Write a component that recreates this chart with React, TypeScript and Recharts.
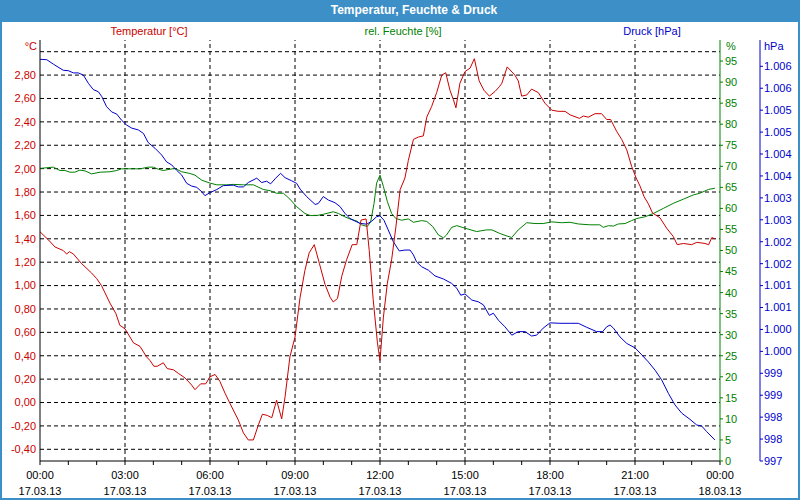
import { LineChart, Line, XAxis, YAxis, ReferenceLine } from 'recharts';

const FONT = '"Liberation Sans", Arial, sans-serif';
const RED = '#cc0000';
const GREEN = '#008000';
const BLUE = '#0000cc';

// temperature [°C]
const tempHours = [
  0, 0.3, 0.53, 0.82, 0.94, 1.04, 1.18, 1.46, 1.81, 2.0,
  2.17, 2.47, 2.68, 2.82, 3.0, 3.3, 3.53, 3.76, 3.88, 4.02,
  4.14, 4.35, 4.49, 4.71, 4.88, 5.12, 5.35, 5.47, 5.67, 5.85,
  6.0, 6.18, 6.35, 6.53, 6.71, 7.0, 7.18, 7.35, 7.53, 7.71,
  7.85, 8.02, 8.18, 8.35, 8.53, 8.65, 8.82, 9.0, 9.18, 9.35,
  9.5, 9.68, 9.86, 10.06, 10.24, 10.35, 10.5, 10.65, 10.82, 11.02,
  11.18, 11.33, 11.51, 11.62, 11.76, 11.91, 12.0, 12.12, 12.26, 12.41,
  12.56, 12.71, 12.88, 13.0, 13.18, 13.35, 13.53, 13.65, 13.82, 14.0,
  14.18, 14.32, 14.47, 14.59, 14.68, 14.82, 15.0, 15.18, 15.33, 15.5,
  15.67, 15.86, 16.06, 16.21, 16.3, 16.49, 16.76, 16.88, 17.0, 17.18,
  17.35, 17.59, 17.82, 18.06, 18.29, 18.53, 18.71, 19.04, 19.18, 19.35,
  19.59, 19.82, 20.0, 20.14, 20.35, 20.53, 20.71, 20.88, 21.04, 21.18,
  21.32, 21.47, 21.62, 21.88, 22.12, 22.35, 22.49, 22.71, 23.0, 23.18,
  23.47, 23.6, 23.71, 23.82,
];
const tempValues = [
  1.46, 1.39, 1.33, 1.3, 1.27, 1.29, 1.27, 1.19, 1.11, 1.06,
  1.0, 0.85, 0.76, 0.66, 0.63, 0.51, 0.48, 0.39, 0.36, 0.31,
  0.31, 0.34, 0.29, 0.28, 0.25, 0.21, 0.15, 0.11, 0.16, 0.16,
  0.22, 0.24, 0.18, 0.08, -0.01, -0.15, -0.26, -0.32, -0.32, -0.19,
  -0.1, -0.11, -0.13, 0.02, -0.14, 0.05, 0.39, 0.56, 0.9, 1.13,
  1.28, 1.35, 1.19, 1.01, 0.9, 0.86, 0.89, 1.08, 1.22, 1.35,
  1.35, 1.56, 1.57, 1.3, 0.88, 0.51, 0.36, 0.73, 1.02, 1.22,
  1.5, 1.82, 1.92, 2.07, 2.25, 2.27, 2.28, 2.44, 2.53, 2.65,
  2.8, 2.82, 2.67, 2.59, 2.52, 2.73, 2.83, 2.86, 2.94, 2.75,
  2.67, 2.62, 2.66, 2.7, 2.73, 2.87, 2.8, 2.75, 2.62, 2.63,
  2.68, 2.65, 2.56, 2.5, 2.49, 2.49, 2.46, 2.43, 2.45, 2.44,
  2.47, 2.47, 2.42, 2.42, 2.32, 2.25, 2.16, 2.02, 1.92, 1.85,
  1.76, 1.7, 1.62, 1.58, 1.49, 1.42, 1.35, 1.36, 1.35, 1.37,
  1.36, 1.35, 1.41, 1.4,
];

// rel. humidity [%]
const humHours = [
  0, 0.47, 0.71, 0.88, 1.06, 1.23, 1.41, 1.59, 1.82, 2.12,
  2.47, 2.71, 2.88, 3.18, 3.53, 3.82, 4.0, 4.18, 4.35, 4.59,
  4.76, 5.0, 5.29, 5.47, 5.71, 6.0, 6.24, 6.59, 6.82, 7.18,
  7.53, 7.88, 8.12, 8.35, 8.59, 8.82, 9.06, 9.35, 9.53, 9.76,
  10.0, 10.35, 10.53, 10.76, 10.94, 11.18, 11.35, 11.55, 11.67, 11.79,
  11.88, 12.0, 12.12, 12.26, 12.41, 12.56, 12.76, 13.0, 13.18, 13.47,
  13.65, 13.86, 14.06, 14.24, 14.35, 14.53, 14.71, 15.0, 15.41, 15.76,
  15.95, 16.21, 16.45, 16.65, 16.88, 17.18, 17.47, 17.76, 18.06, 18.41,
  18.71, 19.0, 19.41, 19.76, 19.88, 20.06, 20.24, 20.41, 20.65, 20.88,
  21.06, 21.35, 21.65, 22.0, 22.35, 22.71, 23.06, 23.29, 23.59, 23.82,
];
const humValues = [
  69.5, 69.8, 69.0, 69.0, 68.6, 68.6, 69.1, 68.9, 68.2, 68.6,
  68.7, 69.0, 69.4, 69.4, 69.4, 69.8, 69.8, 69.3, 69.0, 69.3,
  69.5, 68.7, 68.3, 67.9, 66.7, 66.0, 65.6, 65.6, 65.7, 65.6,
  65.6, 64.5, 64.2, 63.6, 63.6, 62.2, 60.4, 58.8, 58.3, 58.3,
  58.6, 59.2, 58.8, 58.0, 57.5, 57.0, 56.1, 55.7, 56.8, 61.2,
  66.0, 67.9, 65.2, 61.6, 58.8, 57.6, 57.2, 57.5, 56.7, 57.1,
  56.9, 55.7, 53.7, 53.0, 53.7, 55.5, 55.9, 55.3, 54.5, 54.9,
  54.9, 54.1, 53.5, 53.1, 54.9, 56.6, 56.4, 56.4, 56.8, 56.6,
  56.7, 56.3, 56.1, 56.1, 55.5, 55.9, 55.8, 56.3, 56.4, 57.1,
  57.6, 58.0, 58.8, 60.0, 61.2, 62.2, 63.2, 63.6, 64.5, 64.8,
];

// pressure [hPa]
const presHours = [
  0, 0.24, 0.47, 0.82, 1.0, 1.18, 1.35, 1.53, 1.71, 1.88,
  2.06, 2.18, 2.35, 2.53, 2.71, 2.88, 3.06, 3.24, 3.47, 3.65,
  3.82, 4.06, 4.29, 4.47, 4.65, 4.82, 5.0, 5.18, 5.35, 5.53,
  5.71, 5.82, 6.0, 6.24, 6.47, 6.82, 7.0, 7.18, 7.35, 7.65,
  7.82, 8.0, 8.14, 8.32, 8.49, 8.65, 8.88, 9.06, 9.18, 9.41,
  9.71, 9.82, 10.0, 10.18, 10.41, 10.59, 10.76, 10.94, 11.12, 11.29,
  11.53, 11.71, 11.88, 12.0, 12.14, 12.29, 12.47, 12.68, 12.88, 13.06,
  13.18, 13.29, 13.47, 13.71, 13.94, 14.24, 14.53, 14.71, 14.85, 15.0,
  15.24, 15.47, 15.65, 15.86, 16.0, 16.18, 16.41, 16.65, 16.88, 17.12,
  17.35, 17.53, 17.76, 18.0, 18.35, 18.71, 19.0, 19.29, 19.65, 19.86,
  20.0, 20.12, 20.24, 20.47, 20.71, 21.0, 21.24, 21.47, 21.71, 21.94,
  22.18, 22.41, 22.65, 22.94, 23.18, 23.35, 23.53, 23.82,
];
const presValues = [
  1006.16, 1006.15, 1006.05, 1005.91, 1005.9, 1005.85, 1005.85, 1005.8, 1005.61, 1005.47,
  1005.42, 1005.31, 1005.08, 1004.96, 1004.91, 1004.77, 1004.66, 1004.59, 1004.55, 1004.47,
  1004.26, 1004.13, 1003.98, 1003.82, 1003.75, 1003.63, 1003.52, 1003.33, 1003.27, 1003.24,
  1003.14, 1003.05, 1003.12, 1003.19, 1003.28, 1003.29, 1003.25, 1003.25, 1003.35, 1003.45,
  1003.35, 1003.38, 1003.32, 1003.45, 1003.56, 1003.46, 1003.39, 1003.33, 1003.2, 1003.03,
  1002.85, 1002.87, 1003.03, 1002.95, 1002.89, 1002.8, 1002.65, 1002.53, 1002.47, 1002.42,
  1002.4, 1002.47, 1002.57, 1002.59, 1002.49, 1002.27, 1002.0, 1001.79, 1001.81, 1001.81,
  1001.7, 1001.54, 1001.43, 1001.35, 1001.22, 1001.15, 1001.05, 1000.94, 1000.78, 1000.81,
  1000.67, 1000.63, 1000.56, 1000.32, 1000.37, 1000.21, 1000.06, 999.87, 999.95, 999.95,
  999.85, 999.87, 1000.03, 1000.15, 1000.14, 1000.14, 1000.14, 1000.05, 999.95, 999.95,
  1000.06, 1000.1, 1000.03, 999.83, 999.68, 999.58, 999.42, 999.26, 999.07, 998.85,
  998.54, 998.28, 998.09, 997.95, 997.82, 997.8, 997.67, 997.48,
];

// axes
const tickHours = [0, 3, 6, 9, 12, 15, 18, 21, 24];
const tickTimes = ['00:00', '03:00', '06:00', '09:00', '12:00', '15:00', '18:00', '21:00', '00:00'];
const tickDates = ['17.03.13', '17.03.13', '17.03.13', '17.03.13', '17.03.13', '17.03.13', '17.03.13', '17.03.13', '18.03.13'];
const minorHours = Array.from({ length: 25 }, (_, i) => i);
const tempTicks = [-0.4, -0.2, 0, 0.2, 0.4, 0.6, 0.8, 1.0, 1.2, 1.4, 1.6, 1.8, 2.0, 2.2, 2.4, 2.6, 2.8];
const tempGrid = [...tempTicks, 3.0];
const humTicks = [0, 5, 10, 15, 20, 25, 30, 35, 40, 45, 50, 55, 60, 65, 70, 75, 80, 85, 90, 95];
const presTicks = [
  997, 997.5, 998, 998.5, 999, 999.5, 1000, 1000.5, 1001, 1001.5,
  1002, 1002.5, 1003, 1003.5, 1004, 1004.5, 1005, 1005.5, 1006,
];

const toPoints = (hours: number[], values: number[]) => hours.map((h, i) => ({ h, v: values[i] }));
const tempData = toPoints(tempHours, tempValues);
const humData = toPoints(humHours, humValues);
const presData = toPoints(presHours, presValues);

const fmtTemp = (v: number) => v.toFixed(2).replace('.', ',');
const fmtPres = (v: number) => {
  const r = Math.round(v);
  return r >= 1000 ? `${Math.floor(r / 1000)}.${String(r % 1000).padStart(3, '0')}` : String(r);
};

const TimeTick = ({ x, y, payload }: any) => {
  const i = tickHours.indexOf(payload.value);
  if (i < 0) return <g />;
  return (
    <g>
      <text x={x} y={y + 12} textAnchor='middle' fill='#000' fontSize={11} fontFamily={FONT}>
        {tickTimes[i]}
      </text>
      <text x={x} y={y + 28} textAnchor='middle' fill='#000' fontSize={11} fontFamily={FONT}>
        {tickDates[i]}
      </text>
    </g>
  );
};

const label = (text: string, color: string, left: number, top: number, width: number, align: 'left' | 'center' | 'right') => (
  <div
    style={{
      position: 'absolute',
      left,
      top,
      width,
      textAlign: align,
      color,
      fontSize: 11,
      lineHeight: '14px',
      whiteSpace: 'nowrap',
    }}
  >
    {text}
  </div>
);

export default function App() {
  return (
    <div
      style={{
        position: 'absolute',
        left: 0,
        top: 0,
        width: 800,
        height: 500,
        background: '#3d8fc7',
        fontFamily: FONT,
      }}
    >
      <div style={{ position: 'absolute', left: 2, top: 22, width: 796, height: 476, background: '#fff' }} />
      <div
        style={{
          position: 'absolute',
          left: 0,
          top: 3,
          width: 828,
          textAlign: 'center',
          color: '#fff',
          fontWeight: 'bold',
          fontSize: 12,
          lineHeight: '15px',
        }}
      >
        Temperatur, Feuchte &amp; Druck
      </div>
      {label('Temperatur [°C]', RED, 49, 24, 200, 'center')}
      {label('rel. Feuchte [%]', GREEN, 303, 24, 200, 'center')}
      {label('Druck [hPa]', BLUE, 552, 24, 200, 'center')}
      {label('°C', RED, 0, 39, 37, 'right')}
      {label('%', GREEN, 726, 39, 20, 'left')}
      {label('hPa', BLUE, 764, 39, 30, 'left')}

      <div style={{ position: 'absolute', left: 0, top: 0 }}>
        <LineChart width={800} height={500} margin={{ top: 40, right: 0, bottom: 2, left: 0 }}>
          <XAxis
            dataKey='h'
            type='number'
            domain={[0, 24]}
            ticks={minorHours}
            interval={0}
            height={37}
            tickSize={4}
            tickMargin={2}
            stroke='#000'
            axisLine={{ stroke: '#000' }}
            tickLine={{ stroke: '#000' }}
            tick={<TimeTick />}
            allowDataOverflow
          />
          <XAxis
            xAxisId='top'
            orientation='top'
            type='number'
            domain={[0, 24]}
            height={0}
            tick={false}
            tickLine={false}
            axisLine={{ stroke: '#000' }}
          />
          <YAxis
            yAxisId='t'
            orientation='left'
            type='number'
            domain={[-0.5, 3.1]}
            ticks={tempTicks}
            interval={0}
            width={40}
            tickLine={false}
            tickSize={0}
            tickMargin={4}
            axisLine={{ stroke: '#000' }}
            tickFormatter={fmtTemp}
            tick={{ fill: RED, fontSize: 11, fontFamily: FONT }}
            allowDataOverflow
          />
          <YAxis
            yAxisId='h'
            orientation='right'
            type='number'
            domain={[0, 100]}
            ticks={humTicks}
            interval={0}
            width={40}
            tickSize={3}
            tickMargin={2}
            axisLine={{ stroke: GREEN }}
            tickLine={{ stroke: GREEN }}
            tick={{ fill: GREEN, fontSize: 11, fontFamily: FONT }}
            allowDataOverflow
          />
          <YAxis
            yAxisId='p'
            orientation='right'
            type='number'
            domain={[997, 1006.6]}
            ticks={presTicks}
            interval={0}
            width={40}
            tickSize={3}
            tickMargin={1}
            axisLine={{ stroke: BLUE }}
            tickLine={{ stroke: BLUE }}
            tickFormatter={fmtPres}
            tick={{ fill: BLUE, fontSize: 11, fontFamily: FONT }}
            allowDataOverflow
          />
          {tempGrid.map((t) => (
            <ReferenceLine key={`g${t}`} yAxisId='t' y={t} stroke='#000' strokeDasharray='4 3' />
          ))}
          {tickHours.slice(1, -1).map((h) => (
            <ReferenceLine key={`v${h}`} yAxisId='t' x={h} stroke='#000' strokeDasharray='4 3' />
          ))}
          <Line
            data={humData}
            dataKey='v'
            yAxisId='h'
            type='linear'
            stroke={GREEN}
            strokeWidth={1}
            dot={false}
            isAnimationActive={false}
          />
          <Line
            data={presData}
            dataKey='v'
            yAxisId='p'
            type='linear'
            stroke={BLUE}
            strokeWidth={1}
            dot={false}
            isAnimationActive={false}
          />
          <Line
            data={tempData}
            dataKey='v'
            yAxisId='t'
            type='linear'
            stroke={RED}
            strokeWidth={1}
            dot={false}
            isAnimationActive={false}
          />
        </LineChart>
      </div>
    </div>
  );
}
